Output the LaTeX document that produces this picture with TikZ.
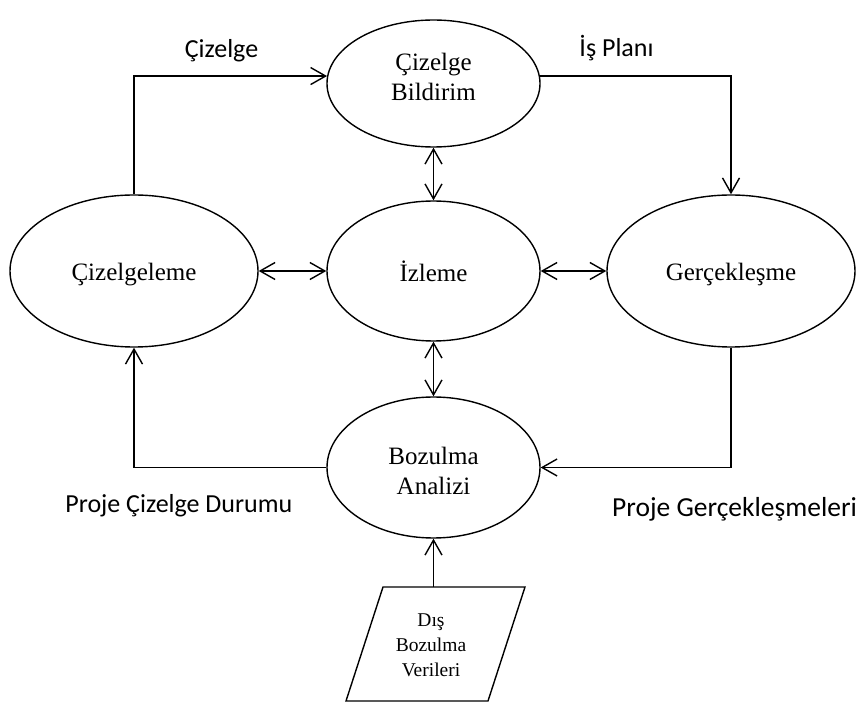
\documentclass[tikz,border=0pt]{standalone}
\usepackage{fontspec}
\setmainfont{Liberation Serif}
\newfontfamily\lblfont{Carlito}
\usetikzlibrary{shapes.geometric,arrows.meta}

\begin{document}
\begin{tikzpicture}[x=1pt,y=-1pt,
  line width=1.4pt,
  procshape/.style={ellipse,draw,inner sep=0pt},
  proctext/.style={inner sep=0pt,font=\fontsize{25}{30}\selectfont,align=center},
  flowlbl/.style={font=\lblfont\fontsize{26}{30}\selectfont,inner sep=0pt},
  arr/.style={-{Straight Barb[length=15pt,width=17pt]}},
  darr/.style={{Straight Barb[length=15pt,width=17pt]}-{Straight Barb[length=15pt,width=17pt]}}]

\useasboundingbox (0,0) rectangle (860,708);

% process ellipses
\node[procshape,minimum width=213pt,minimum height=127pt] (T) at (433.5,83.5) {};
\node[procshape,minimum width=213pt,minimum height=140pt] (M) at (433.5,271) {};
\node[procshape,minimum width=213pt,minimum height=141pt] (B) at (433.5,467.5) {};
\node[procshape,minimum width=248pt,minimum height=152pt] (L) at (134,271) {};
\node[procshape,minimum width=248pt,minimum height=152pt] (R) at (731,271) {};

% process names (base anchor = baseline of the last line)
\node[proctext,anchor=base] (Tt) at (433.5,101) {Çizelge\\Bildirim};
\node[proctext,anchor=base] (Mt) at (433.5,282) {İzleme};
\node[proctext,anchor=base] (Bt) at (433.5,495) {Bozulma\\Analizi};
\node[proctext,anchor=base] (Lt) at (134,281) {Çizelgeleme};
\node[proctext,anchor=base] (Rt) at (731,281) {Gerçekleşme};

% external data input (parallelogram)
\draw (383,587) -- (525,587) -- (488,701) -- (346,701) -- cycle;
\node[align=center,inner sep=0pt,font=\fontsize{19.5}{25}\selectfont] (D) at (431,645)
  {Dış\\Bozulma\\Verileri};
\coordinate (Dtop) at (433.5,587);

% outer loop
\draw[arr] (L.north) |- (T.176);
\draw[arr] (T.4) -| (R.north);
\draw[arr] (R.south) |- (B.east);
\draw[arr] (B.west) -| (L.south);

% links to monitoring
\draw[darr] (T.south) -- (M.north);
\draw[darr] (M.south) -- (B.north);
\draw[darr] (L.east) -- (M.west);
\draw[darr] (M.east) -- (R.west);

% data input
\draw[arr] (Dtop) -- (B.south);

% flow labels
\node[flowlbl,anchor=base] (l1) at (221.5,58) {Çizelge};
\node[flowlbl,anchor=base] (l2) at (616.5,57) {İş Planı};
\node[flowlbl,anchor=base east] (l3) at (293,512) {Proje Çizelge Durumu};
\node[flowlbl,anchor=base,font=\lblfont\fontsize{27.5}{30}\selectfont] (l4) at (734.5,517) {Proje Gerçekleşmeleri};
\end{tikzpicture}
\end{document}
